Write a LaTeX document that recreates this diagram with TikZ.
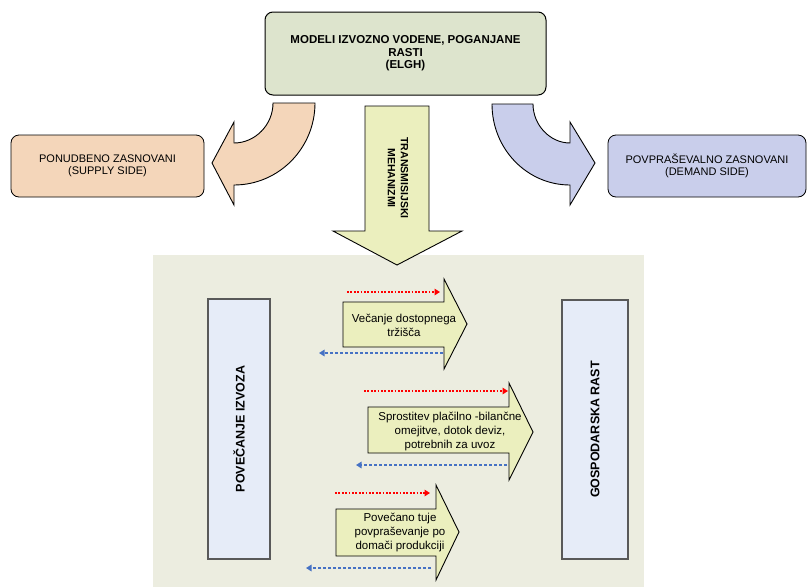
\documentclass[tikz,border=0pt]{standalone}
\usepackage{fontspec}
\setmainfont{Liberation Sans}
\usetikzlibrary{arrows.meta}
\definecolor{topfill}{RGB}{221,228,205}
\definecolor{peach}{RGB}{244,214,186}
\definecolor{lav}{RGB}{201,206,235}
\definecolor{yel}{RGB}{235,239,190}
\definecolor{panelfill}{RGB}{236,237,224}
\definecolor{tallfill}{RGB}{230,236,248}
\definecolor{dred}{RGB}{255,0,0}
\definecolor{dblue}{RGB}{70,114,196}
\begin{document}
\begin{tikzpicture}[x=1pt,y=-1pt,
  topbox/.style={draw=black, line width=1pt, rounded corners=8pt, fill=topfill,
    minimum width=281pt, minimum height=83pt, align=center,
    font=\bfseries\fontsize{11.5}{12.5}\selectfont},
  sidebox/.style={draw=black, line width=0.8pt, rounded corners=8pt,
    minimum height=62pt, align=center, font=\fontsize{11}{12.5}\selectfont},
  tallbox/.style={draw=black!65, line width=1.1pt, fill=tallfill, rotate=90,
    font=\bfseries\fontsize{12.5}{14}\selectfont},
  bigarrow/.style={draw=black, line width=0.9pt, line join=miter},
  arrowtext/.style={align=center, font=\fontsize{11.5}{14}\selectfont},
  redlink/.style={dred, line width=1.4pt, dash pattern=on 1.8pt off 1.6pt,
    -{Triangle[length=5.5pt,width=6.5pt]}},
  bluelink/.style={dblue, line width=1.4pt, dash pattern=on 3pt off 2pt,
    -{Triangle[length=5.5pt,width=6.5pt]}}]
\useasboundingbox (0,0) rectangle (809,587);

% background panel
\fill[panelfill] (153,255) rectangle (644,587);

% curved arrows
\draw[bigarrow, fill=peach] (273,103) -- (315,103)
  .. controls (315,148) and (279,185) .. (234,185)
  -- (234,205) -- (212,163) -- (234,122) -- (234,143)
  .. controls (255,143) and (273,125) .. (273,103) -- cycle;
\draw[bigarrow, fill=lav] (533,104) -- (492,104)
  .. controls (492,149) and (527,185) .. (570,185)
  -- (570,205) -- (595,163) -- (570,122) -- (570,143)
  .. controls (550,143) and (533,125) .. (533,104) -- cycle;

% down arrow
\draw[bigarrow, fill=yel] (365,106) -- (429,106) -- (429,231) -- (462,231)
  -- (397,265) -- (333,231) -- (365,231) -- cycle;
\node[rotate=-90, align=center, font=\bfseries\fontsize{10.5}{13}\selectfont]
  (trans) at (398,178) {TRANSMISIJSKI\\MEHANIZMI};

% top box
\node[topbox] (top) at (405.5,53.5) {MODELI IZVOZNO VODENE, POGANJANE\\RASTI\\(ELGH)};

% side boxes
\node[sidebox, fill=peach, minimum width=193pt] (supply) at (107.5,166)
  {PONUDBENO ZASNOVANI\\(SUPPLY SIDE)};
\node[sidebox, fill=lav, minimum width=198pt] (demand) at (707,166)
  {POVPRAŠEVALNO ZASNOVANI\\(DEMAND SIDE)};

% tall boxes
\node[tallbox, minimum width=260pt, minimum height=62pt] (izvoz) at (239,429)
  {POVEČANJE IZVOZA};
\node[tallbox, minimum width=259pt, minimum height=66pt] (rast) at (595,429.5)
  {GOSPODARSKA RAST};

% horizontal arrows
\draw[bigarrow, fill=yel] (343,302) -- (444,302) -- (444,279) -- (467,324)
  -- (444,369) -- (444,347) -- (343,347) -- cycle;
\node[arrowtext] (a1) at (404,325) {Večanje dostopnega\\tržišča};
\draw[bigarrow, fill=yel] (368,407) -- (509,407) -- (509,383) -- (533,432)
  -- (509,480) -- (509,453) -- (368,453) -- cycle;
\node[arrowtext] (a2) at (450,431) {Sprostitev plačilno -bilančne\\omejitve, dotok deviz,\\potrebnih za uvoz};
\draw[bigarrow, fill=yel] (336,509) -- (436,509) -- (436,485) -- (459,532)
  -- (436,580) -- (436,556) -- (336,556) -- cycle;
\node[arrowtext] (a3) at (400,532) {Povečano tuje\\povpraševanje po\\domači produkciji};

% dotted connectors
\coordinate (r1s) at (347,292); \coordinate (r1e) at (440,292);
\coordinate (b1s) at (443,353); \coordinate (b1e) at (319,353);
\coordinate (r2s) at (364,391); \coordinate (r2e) at (508,391);
\coordinate (b2s) at (507,465); \coordinate (b2e) at (356,465);
\coordinate (r3s) at (335,493); \coordinate (r3e) at (430,493);
\coordinate (b3s) at (431,568); \coordinate (b3e) at (306,568);
\draw[redlink] (r1s) -- (r1e);
\draw[bluelink] (b1s) -- (b1e);
\draw[redlink] (r2s) -- (r2e);
\draw[bluelink] (b2s) -- (b2e);
\draw[redlink] (r3s) -- (r3e);
\draw[bluelink] (b3s) -- (b3e);
\end{tikzpicture}
\end{document}
